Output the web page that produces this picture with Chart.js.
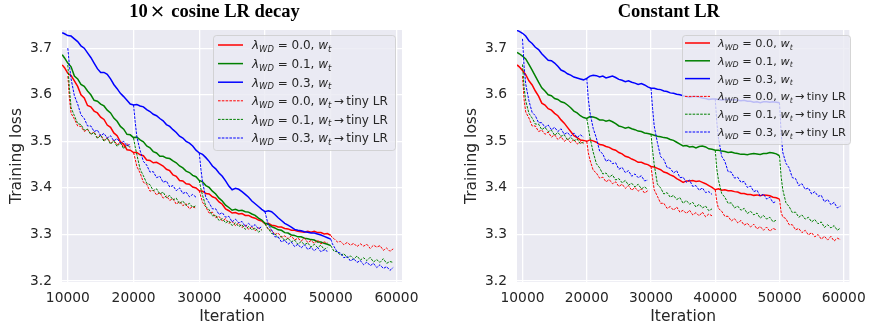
<!DOCTYPE html>
<html>
<head>
<meta charset="utf-8">
<script src="https://cdn.jsdelivr.net/npm/chart.js@4.4.0/dist/chart.umd.min.js"></script>
<style>
  body { margin: 0; background: #fff; }
  #wrap { position: relative; width: 874px; height: 328px; }
  canvas { position: absolute; top: 0; }
</style>
</head>
<body>
<div id="wrap">
  <canvas id="grafico-1" width="437" height="328" style="left:0"></canvas>
  <canvas id="grafico-2" width="437" height="328" style="left:437px"></canvas>
</div>
<script>
// iterations of the w_t curves
const iteracoes = [9150, 9500, 10000, 10500, 11000, 11500, 12000, 12500, 13000, 13500,
  14000, 14500, 15000, 15500, 16000, 16500, 17000, 17500, 18000, 18500,
  19000, 19500, 20000, 20500, 21000, 21500, 22000, 22500, 23000, 23500,
  24000, 24500, 25000, 25500, 26000, 26500, 27000, 27500, 28000, 28500,
  29000, 29500, 30000, 30500, 31000, 31500, 32000, 32500, 33000, 33500,
  34000, 34500, 35000, 35500, 36000, 36500, 37000, 37500, 38000, 38500,
  39000, 39500, 40000, 40500, 41000, 41500, 42000, 42500, 43000, 43500,
  44000, 44500, 45000, 45500, 46000, 46500, 47000, 47500, 48000, 48500,
  49000, 49500, 50000];
// where each "tiny LR" branch starts, and the offsets read along each branch
const inicioTrechos = [10000, 20000, 30000, 40000, 50000];
const passosTiny = [0, 250, 500, 1000, 1500, 2000, 2500, 3000, 3500, 4000, 4500,
  5000, 5500, 6000, 6500, 7000, 7500, 8000, 8500, 9000, 9500];
const lambdas = ['0.0', '0.1', '0.3'];
const ticksX = [10000, 20000, 30000, 40000, 50000, 60000];
const ticksY = [3.2, 3.3, 3.4, 3.5, 3.6, 3.7];

// ---- 10x cosine LR decay ----
const cosWD00 = [3.664, 3.658, 3.646, 3.641, 3.630, 3.618, 3.600, 3.593, 3.577, 3.574,
  3.565, 3.561, 3.552, 3.547, 3.535, 3.530, 3.518, 3.512, 3.499, 3.494,
  3.482, 3.481, 3.476, 3.476, 3.471, 3.469, 3.460, 3.459, 3.454, 3.455,
  3.451, 3.447, 3.440, 3.437, 3.428, 3.425, 3.416, 3.415, 3.409, 3.408,
  3.402, 3.400, 3.394, 3.393, 3.388, 3.387, 3.381, 3.378, 3.370, 3.365,
  3.355, 3.351, 3.346, 3.347, 3.344, 3.345, 3.341, 3.341, 3.337, 3.335,
  3.331, 3.329, 3.323, 3.324, 3.320, 3.319, 3.316, 3.316, 3.313, 3.312,
  3.309, 3.309, 3.307, 3.306, 3.305, 3.307, 3.305, 3.307, 3.304, 3.304,
  3.301, 3.302, 3.298];
const cosWD01 = [3.686, 3.679, 3.668, 3.660, 3.640, 3.634, 3.622, 3.618, 3.608, 3.600,
  3.588, 3.586, 3.580, 3.576, 3.567, 3.561, 3.550, 3.543, 3.532, 3.526,
  3.515, 3.514, 3.508, 3.509, 3.503, 3.499, 3.490, 3.486, 3.478, 3.475,
  3.468, 3.468, 3.464, 3.463, 3.458, 3.454, 3.447, 3.443, 3.436, 3.433,
  3.427, 3.424, 3.416, 3.413, 3.405, 3.401, 3.393, 3.387, 3.378, 3.372,
  3.363, 3.358, 3.352, 3.354, 3.351, 3.352, 3.349, 3.348, 3.344, 3.341,
  3.335, 3.331, 3.324, 3.322, 3.317, 3.314, 3.310, 3.309, 3.304, 3.303,
  3.299, 3.298, 3.295, 3.295, 3.292, 3.291, 3.289, 3.288, 3.284, 3.284,
  3.281, 3.279, 3.276];
const cosWD03 = [3.733, 3.731, 3.727, 3.726, 3.720, 3.714, 3.705, 3.700, 3.690, 3.680,
  3.668, 3.656, 3.648, 3.648, 3.644, 3.634, 3.622, 3.613, 3.603, 3.596,
  3.588, 3.580, 3.578, 3.579, 3.576, 3.574, 3.568, 3.564, 3.558, 3.555,
  3.549, 3.544, 3.536, 3.532, 3.525, 3.519, 3.511, 3.507, 3.500, 3.496,
  3.490, 3.481, 3.475, 3.472, 3.465, 3.457, 3.447, 3.441, 3.432, 3.425,
  3.415, 3.404, 3.396, 3.399, 3.397, 3.392, 3.386, 3.380, 3.372, 3.366,
  3.360, 3.354, 3.349, 3.351, 3.349, 3.343, 3.336, 3.330, 3.324, 3.320,
  3.316, 3.311, 3.309, 3.308, 3.306, 3.305, 3.303, 3.303, 3.301, 3.299,
  3.296, 3.293, 3.290];
const cosTinyWD00 = [
  [3.640, 3.592, 3.560, 3.548, 3.533, 3.532, 3.521, 3.526, 3.515, 3.520, 3.508, 3.514, 3.502, 3.508, 3.496, 3.503, 3.492, 3.499, 3.487, 3.495, 3.488],
  [3.476, 3.462, 3.446, 3.432, 3.412, 3.408, 3.393, 3.395, 3.385, 3.390, 3.378, 3.383, 3.373, 3.377, 3.365, 3.371, 3.362, 3.366, 3.355, 3.360, 3.356],
  [3.394, 3.381, 3.369, 3.359, 3.346, 3.348, 3.336, 3.339, 3.329, 3.334, 3.324, 3.328, 3.319, 3.325, 3.315, 3.320, 3.311, 3.317, 3.308, 3.314, 3.310],
  [3.323, 3.317, 3.311, 3.309, 3.300, 3.303, 3.294, 3.297, 3.291, 3.297, 3.288, 3.292, 3.286, 3.292, 3.283, 3.287, 3.281, 3.288, 3.280, 3.284, 3.282],
  [3.298, 3.293, 3.291, 3.284, 3.285, 3.278, 3.283, 3.277, 3.281, 3.274, 3.280, 3.275, 3.279, 3.270, 3.277, 3.273, 3.276, 3.266, 3.271, 3.264, 3.269]
];
const cosTinyWD01 = [
  [3.664, 3.612, 3.572, 3.555, 3.538, 3.536, 3.524, 3.526, 3.515, 3.519, 3.506, 3.513, 3.500, 3.507, 3.494, 3.501, 3.489, 3.497, 3.484, 3.492, 3.486],
  [3.507, 3.488, 3.472, 3.440, 3.426, 3.410, 3.407, 3.394, 3.398, 3.387, 3.391, 3.379, 3.384, 3.374, 3.378, 3.366, 3.372, 3.362, 3.367, 3.358, 3.362],
  [3.416, 3.398, 3.384, 3.360, 3.353, 3.340, 3.341, 3.330, 3.334, 3.325, 3.329, 3.319, 3.325, 3.317, 3.321, 3.311, 3.317, 3.310, 3.314, 3.305, 3.310],
  [3.324, 3.316, 3.313, 3.302, 3.301, 3.293, 3.296, 3.287, 3.292, 3.284, 3.288, 3.279, 3.285, 3.278, 3.282, 3.273, 3.279, 3.272, 3.277, 3.268, 3.272],
  [3.276, 3.270, 3.264, 3.263, 3.255, 3.259, 3.250, 3.254, 3.247, 3.254, 3.245, 3.250, 3.244, 3.251, 3.241, 3.246, 3.240, 3.248, 3.238, 3.242, 3.240]
];
const cosTinyWD03 = [
  [3.700, 3.662, 3.634, 3.598, 3.580, 3.557, 3.549, 3.533, 3.533, 3.521, 3.524, 3.512, 3.517, 3.507, 3.512, 3.501, 3.506, 3.496, 3.500, 3.490, 3.494],
  [3.578, 3.542, 3.510, 3.480, 3.457, 3.449, 3.434, 3.435, 3.422, 3.425, 3.412, 3.415, 3.402, 3.405, 3.394, 3.400, 3.388, 3.391, 3.381, 3.386, 3.380],
  [3.475, 3.440, 3.412, 3.379, 3.368, 3.355, 3.355, 3.343, 3.347, 3.337, 3.339, 3.327, 3.333, 3.325, 3.328, 3.317, 3.324, 3.317, 3.321, 3.312, 3.317],
  [3.349, 3.334, 3.320, 3.310, 3.295, 3.295, 3.284, 3.288, 3.279, 3.284, 3.274, 3.279, 3.271, 3.278, 3.268, 3.272, 3.265, 3.272, 3.263, 3.267, 3.264],
  [3.290, 3.280, 3.274, 3.262, 3.260, 3.250, 3.253, 3.243, 3.248, 3.240, 3.244, 3.235, 3.241, 3.233, 3.238, 3.229, 3.235, 3.227, 3.231, 3.223, 3.229]
];

// ---- Constant LR ----
const constWD00 = [3.664, 3.660, 3.652, 3.643, 3.630, 3.621, 3.608, 3.597, 3.582, 3.578,
  3.570, 3.567, 3.560, 3.555, 3.546, 3.539, 3.530, 3.521, 3.512, 3.508,
  3.503, 3.502, 3.500, 3.503, 3.501, 3.498, 3.493, 3.492, 3.489, 3.487,
  3.483, 3.481, 3.476, 3.473, 3.468, 3.466, 3.462, 3.459, 3.455, 3.455,
  3.452, 3.450, 3.446, 3.445, 3.442, 3.439, 3.434, 3.432, 3.428, 3.425,
  3.420, 3.416, 3.412, 3.415, 3.415, 3.416, 3.414, 3.415, 3.412, 3.409,
  3.405, 3.401, 3.396, 3.398, 3.395, 3.396, 3.394, 3.394, 3.392, 3.391,
  3.388, 3.388, 3.386, 3.386, 3.384, 3.385, 3.383, 3.385, 3.384, 3.383,
  3.380, 3.379, 3.376];
const constWD01 = [3.691, 3.688, 3.683, 3.677, 3.665, 3.653, 3.640, 3.627, 3.615, 3.608,
  3.600, 3.598, 3.592, 3.590, 3.585, 3.583, 3.578, 3.572, 3.565, 3.561,
  3.555, 3.551, 3.549, 3.553, 3.552, 3.550, 3.546, 3.546, 3.543, 3.545,
  3.542, 3.538, 3.533, 3.531, 3.528, 3.530, 3.527, 3.525, 3.522, 3.521,
  3.518, 3.517, 3.515, 3.513, 3.511, 3.510, 3.508, 3.507, 3.504, 3.502,
  3.498, 3.494, 3.490, 3.491, 3.488, 3.489, 3.486, 3.489, 3.490, 3.488,
  3.484, 3.483, 3.481, 3.481, 3.479, 3.478, 3.476, 3.477, 3.475, 3.474,
  3.472, 3.472, 3.471, 3.473, 3.474, 3.473, 3.472, 3.474, 3.474, 3.476,
  3.475, 3.473, 3.469];
const constWD03 = [3.738, 3.736, 3.732, 3.726, 3.716, 3.710, 3.702, 3.697, 3.688, 3.681,
  3.674, 3.673, 3.668, 3.661, 3.653, 3.650, 3.645, 3.642, 3.638, 3.636,
  3.634, 3.632, 3.635, 3.640, 3.642, 3.641, 3.638, 3.640, 3.636, 3.638,
  3.640, 3.637, 3.633, 3.631, 3.628, 3.630, 3.627, 3.625, 3.622, 3.624,
  3.621, 3.617, 3.614, 3.614, 3.612, 3.611, 3.608, 3.607, 3.604, 3.603,
  3.601, 3.600, 3.598, 3.596, 3.594, 3.596, 3.596, 3.595, 3.593, 3.592,
  3.590, 3.591, 3.591, 3.590, 3.589, 3.590, 3.590, 3.589, 3.590, 3.588,
  3.587, 3.588, 3.586, 3.586, 3.584, 3.585, 3.583, 3.585, 3.585, 3.584,
  3.585, 3.584, 3.583];
const constTinyWD00 = [
  [3.640, 3.590, 3.563, 3.550, 3.533, 3.533, 3.521, 3.524, 3.515, 3.520, 3.509, 3.514, 3.504, 3.510, 3.500, 3.505, 3.497, 3.504, 3.494, 3.499, 3.495],
  [3.500, 3.475, 3.460, 3.438, 3.432, 3.421, 3.423, 3.413, 3.418, 3.409, 3.413, 3.403, 3.408, 3.399, 3.405, 3.395, 3.401, 3.393, 3.398, 3.389, 3.394],
  [3.446, 3.420, 3.396, 3.382, 3.367, 3.367, 3.356, 3.360, 3.352, 3.359, 3.348, 3.352, 3.345, 3.352, 3.342, 3.347, 3.340, 3.348, 3.338, 3.344, 3.340],
  [3.396, 3.370, 3.356, 3.350, 3.339, 3.339, 3.329, 3.334, 3.325, 3.330, 3.320, 3.324, 3.316, 3.322, 3.312, 3.317, 3.309, 3.316, 3.307, 3.313, 3.310],
  [3.376, 3.348, 3.338, 3.334, 3.321, 3.321, 3.310, 3.313, 3.304, 3.309, 3.299, 3.304, 3.295, 3.300, 3.290, 3.296, 3.288, 3.296, 3.286, 3.292, 3.289]
];
const constTinyWD01 = [
  [3.665, 3.615, 3.587, 3.560, 3.550, 3.537, 3.537, 3.525, 3.530, 3.521, 3.524, 3.513, 3.519, 3.511, 3.514, 3.503, 3.509, 3.501, 3.505, 3.495, 3.498],
  [3.549, 3.530, 3.508, 3.477, 3.452, 3.443, 3.430, 3.432, 3.423, 3.428, 3.417, 3.420, 3.411, 3.416, 3.406, 3.410, 3.402, 3.408, 3.398, 3.402, 3.397],
  [3.515, 3.480, 3.450, 3.408, 3.400, 3.387, 3.390, 3.380, 3.384, 3.375, 3.379, 3.367, 3.373, 3.365, 3.369, 3.359, 3.365, 3.357, 3.361, 3.351, 3.355],
  [3.481, 3.440, 3.417, 3.388, 3.380, 3.367, 3.368, 3.357, 3.361, 3.352, 3.356, 3.345, 3.350, 3.342, 3.346, 3.335, 3.341, 3.333, 3.337, 3.327, 3.331],
  [3.469, 3.425, 3.397, 3.368, 3.360, 3.347, 3.348, 3.337, 3.342, 3.333, 3.337, 3.327, 3.332, 3.323, 3.327, 3.315, 3.321, 3.314, 3.319, 3.309, 3.314]
];
const constTinyWD03 = [
  [3.720, 3.660, 3.623, 3.587, 3.562, 3.555, 3.540, 3.540, 3.530, 3.535, 3.525, 3.530, 3.521, 3.527, 3.515, 3.519, 3.511, 3.518, 3.508, 3.514, 3.509],
  [3.636, 3.590, 3.562, 3.528, 3.507, 3.479, 3.473, 3.457, 3.461, 3.452, 3.454, 3.440, 3.444, 3.433, 3.437, 3.425, 3.430, 3.422, 3.426, 3.415, 3.417],
  [3.614, 3.570, 3.533, 3.497, 3.467, 3.461, 3.444, 3.442, 3.432, 3.437, 3.422, 3.423, 3.412, 3.417, 3.403, 3.405, 3.395, 3.400, 3.390, 3.392, 3.386],
  [3.591, 3.540, 3.507, 3.468, 3.457, 3.435, 3.434, 3.421, 3.423, 3.412, 3.414, 3.401, 3.404, 3.392, 3.395, 3.382, 3.387, 3.376, 3.380, 3.368, 3.371],
  [3.583, 3.520, 3.477, 3.453, 3.443, 3.422, 3.420, 3.405, 3.409, 3.397, 3.400, 3.387, 3.392, 3.382, 3.384, 3.370, 3.375, 3.364, 3.369, 3.357, 3.361]
];

const CORES = ['#ff0000', '#008000', '#0000ff'];
const TRACO = [2.6, 1.2];
const FONTE = '"DejaVu Sans"';

function serieSolida(vals, cor) {
  return {
    data: iteracoes.map((x, i) => ({ x: x, y: vals[i] })),
    borderColor: cor, borderWidth: 1.5, pointRadius: 0, fill: false
  };
}

function serieTiny(trechos, cor) {
  var pts = [];
  trechos.forEach((seg, k) => {
    seg.forEach((v, j) => pts.push({ x: inicioTrechos[k] + passosTiny[j], y: v }));
    pts.push({ x: inicioTrechos[k] + 9700, y: null });
  });
  return {
    data: pts, borderColor: cor, borderWidth: 1, borderDash: TRACO,
    pointRadius: 0, fill: false, spanGaps: false
  };
}

function desenhaRotulo(ctx, x, y, lam, tiny, tam) {
  var pedacos = [
    ['λ', true, 1, 0], ['WD', true, 0.7, 0.22],
    [' = ' + lam + ', ', false, 1, 0],
    ['w', true, 1, 0], ['t', true, 0.7, 0.22]
  ];
  if (tiny) pedacos.push(['\u2009→\u2009tiny LR', false, 1, 0]);
  var cx = x;
  pedacos.forEach(p => {
    ctx.font = (p[1] ? 'italic ' : '') + (tam * p[2]) + 'px ' + FONTE;
    ctx.fillText(p[0], cx, y + p[3] * tam);
    cx += ctx.measureText(p[0]).width;
  });
}

function desenhaTitulo(ctx, pedacos, cx, y) {
  var larg = 0;
  pedacos.forEach(p => { ctx.font = p[1]; larg += ctx.measureText(p[0]).width + p[2]; });
  var x = cx - larg / 2;
  pedacos.forEach(p => {
    ctx.font = p[1];
    ctx.fillText(p[0], x, y);
    x += ctx.measureText(p[0]).width + p[2];
  });
}

function criarGrafico(idGrafico, cfg) {
  var ctx = document.getElementById(idGrafico).getContext('2d');
  var datasets = [
    serieSolida(cfg.solidas[0], CORES[0]),
    serieSolida(cfg.solidas[1], CORES[1]),
    serieSolida(cfg.solidas[2], CORES[2]),
    serieTiny(cfg.tiny[0], CORES[0]),
    serieTiny(cfg.tiny[1], CORES[1]),
    serieTiny(cfg.tiny[2], CORES[2])
  ].reverse(); // later series on top, like the original

  var painel = {
    id: 'painel',
    beforeDraw(chart) {
      var c = chart.ctx, a = chart.chartArea;
      c.save();
      c.fillStyle = '#ffffff';
      c.fillRect(0, 0, chart.width, chart.height);
      c.fillStyle = '#eaeaf2';
      c.fillRect(a.left, a.top, a.right - a.left, a.bottom - a.top);
      c.restore();
    },
    afterDraw(chart) {
      var c = chart.ctx, a = chart.chartArea, L = cfg.legenda;
      c.save();
      // legend
      c.beginPath();
      c.roundRect(L.x + 0.5, L.y + 0.5, L.w, L.h, 3);
      c.fillStyle = 'rgba(234,234,242,0.8)';
      c.fill();
      c.strokeStyle = 'rgba(204,204,204,0.8)';
      c.lineWidth = 1;
      c.stroke();
      for (var k = 0; k < 6; k++) {
        var yy = L.y0 + k * L.passo;
        c.beginPath();
        c.strokeStyle = CORES[k % 3];
        c.lineWidth = k < 3 ? 1.5 : 1;
        c.setLineDash(k < 3 ? [] : TRACO);
        c.moveTo(L.l0, yy);
        c.lineTo(L.l1, yy);
        c.stroke();
        c.setLineDash([]);
        c.fillStyle = '#262626';
        c.textBaseline = 'alphabetic';
        c.textAlign = 'left';
        desenhaRotulo(c, L.tx, yy + 0.36 * L.tam, lambdas[k % 3], k >= 3, L.tam);
      }
      // title
      c.fillStyle = '#000000';
      c.textAlign = 'left';
      desenhaTitulo(c, cfg.titulo, cfg.tituloX, 17);
      // axis titles
      c.fillStyle = '#262626';
      c.font = '15.5px ' + FONTE;
      c.textAlign = 'center';
      c.fillText('Iteration', (a.left + a.right) / 2, 321);
      c.translate(cfg.yTituloX, (a.top + a.bottom) / 2);
      c.rotate(-Math.PI / 2);
      c.textBaseline = 'middle';
      c.fillText('Training loss', 0, 0);
      c.restore();
    }
  };

  var fonteTick = { family: 'DejaVu Sans', size: 13.8 };
  new Chart(ctx, {
    type: 'line',
    data: { datasets: datasets },
    options: {
      responsive: false,
      animation: false,
      layout: { padding: { top: 30, right: cfg.padDir, bottom: 0, left: 0 } },
      plugins: { legend: { display: false }, title: { display: false }, tooltip: { enabled: false } },
      elements: { line: { tension: 0 }, point: { radius: 0 } },
      scales: {
        x: {
          type: 'linear', min: cfg.xMin, max: cfg.xMax,
          border: { display: false },
          grid: { color: '#ffffff', lineWidth: 1.3, drawTicks: false },
          afterBuildTicks: s => { s.ticks = ticksX.map(v => ({ value: v })); },
          ticks: { padding: 8, color: '#262626', font: fonteTick, autoSkip: false, maxRotation: 0,
                   callback: v => String(v) },
          afterFit: s => { s.height = 46; }
        },
        y: {
          min: 3.198, max: 3.739,
          border: { display: false },
          grid: { color: '#ffffff', lineWidth: 1.3, drawTicks: false },
          afterBuildTicks: s => { s.ticks = ticksY.map(v => ({ value: v })); },
          ticks: { padding: 10, color: '#262626', font: fonteTick, callback: v => v.toFixed(1) },
          afterFit: s => { s.width = cfg.yLarg; }
        }
      }
    },
    plugins: [painel]
  });
}

criarGrafico('grafico-1', {
  solidas: [cosWD00, cosWD01, cosWD03],
  tiny: [cosTinyWD00, cosTinyWD01, cosTinyWD03],
  xMin: 9116, xMax: 60840, yLarg: 62, padDir: 35,
  titulo: [['10', 'bold 18.5px "Liberation Serif"', 2], ['×', '18.5px ' + FONTE, 6],
           ['cosine LR decay', 'bold 18.5px "Liberation Serif"', 0]],
  tituloX: 214.5, yTituloX: 17,
  legenda: { x: 213, y: 35, w: 182, h: 115, y0: 45, passo: 18.6, l0: 218, l1: 243, tx: 252, tam: 12 }
});

criarGrafico('grafico-2', {
  solidas: [constWD00, constWD01, constWD03],
  tiny: [constTinyWD00, constTinyWD01, constTinyWD03],
  xMin: 9144, xMax: 60870, yLarg: 80, padDir: 19,
  titulo: [['Constant LR', 'bold 18.5px "Liberation Serif"', 0]],
  tituloX: 231.8, yTituloX: 35,
  legenda: { x: 245, y: 35, w: 168, h: 109, y0: 43, passo: 17.8, l0: 248, l1: 273, tx: 281, tam: 11.3 }
});
</script>
</body>
</html>
